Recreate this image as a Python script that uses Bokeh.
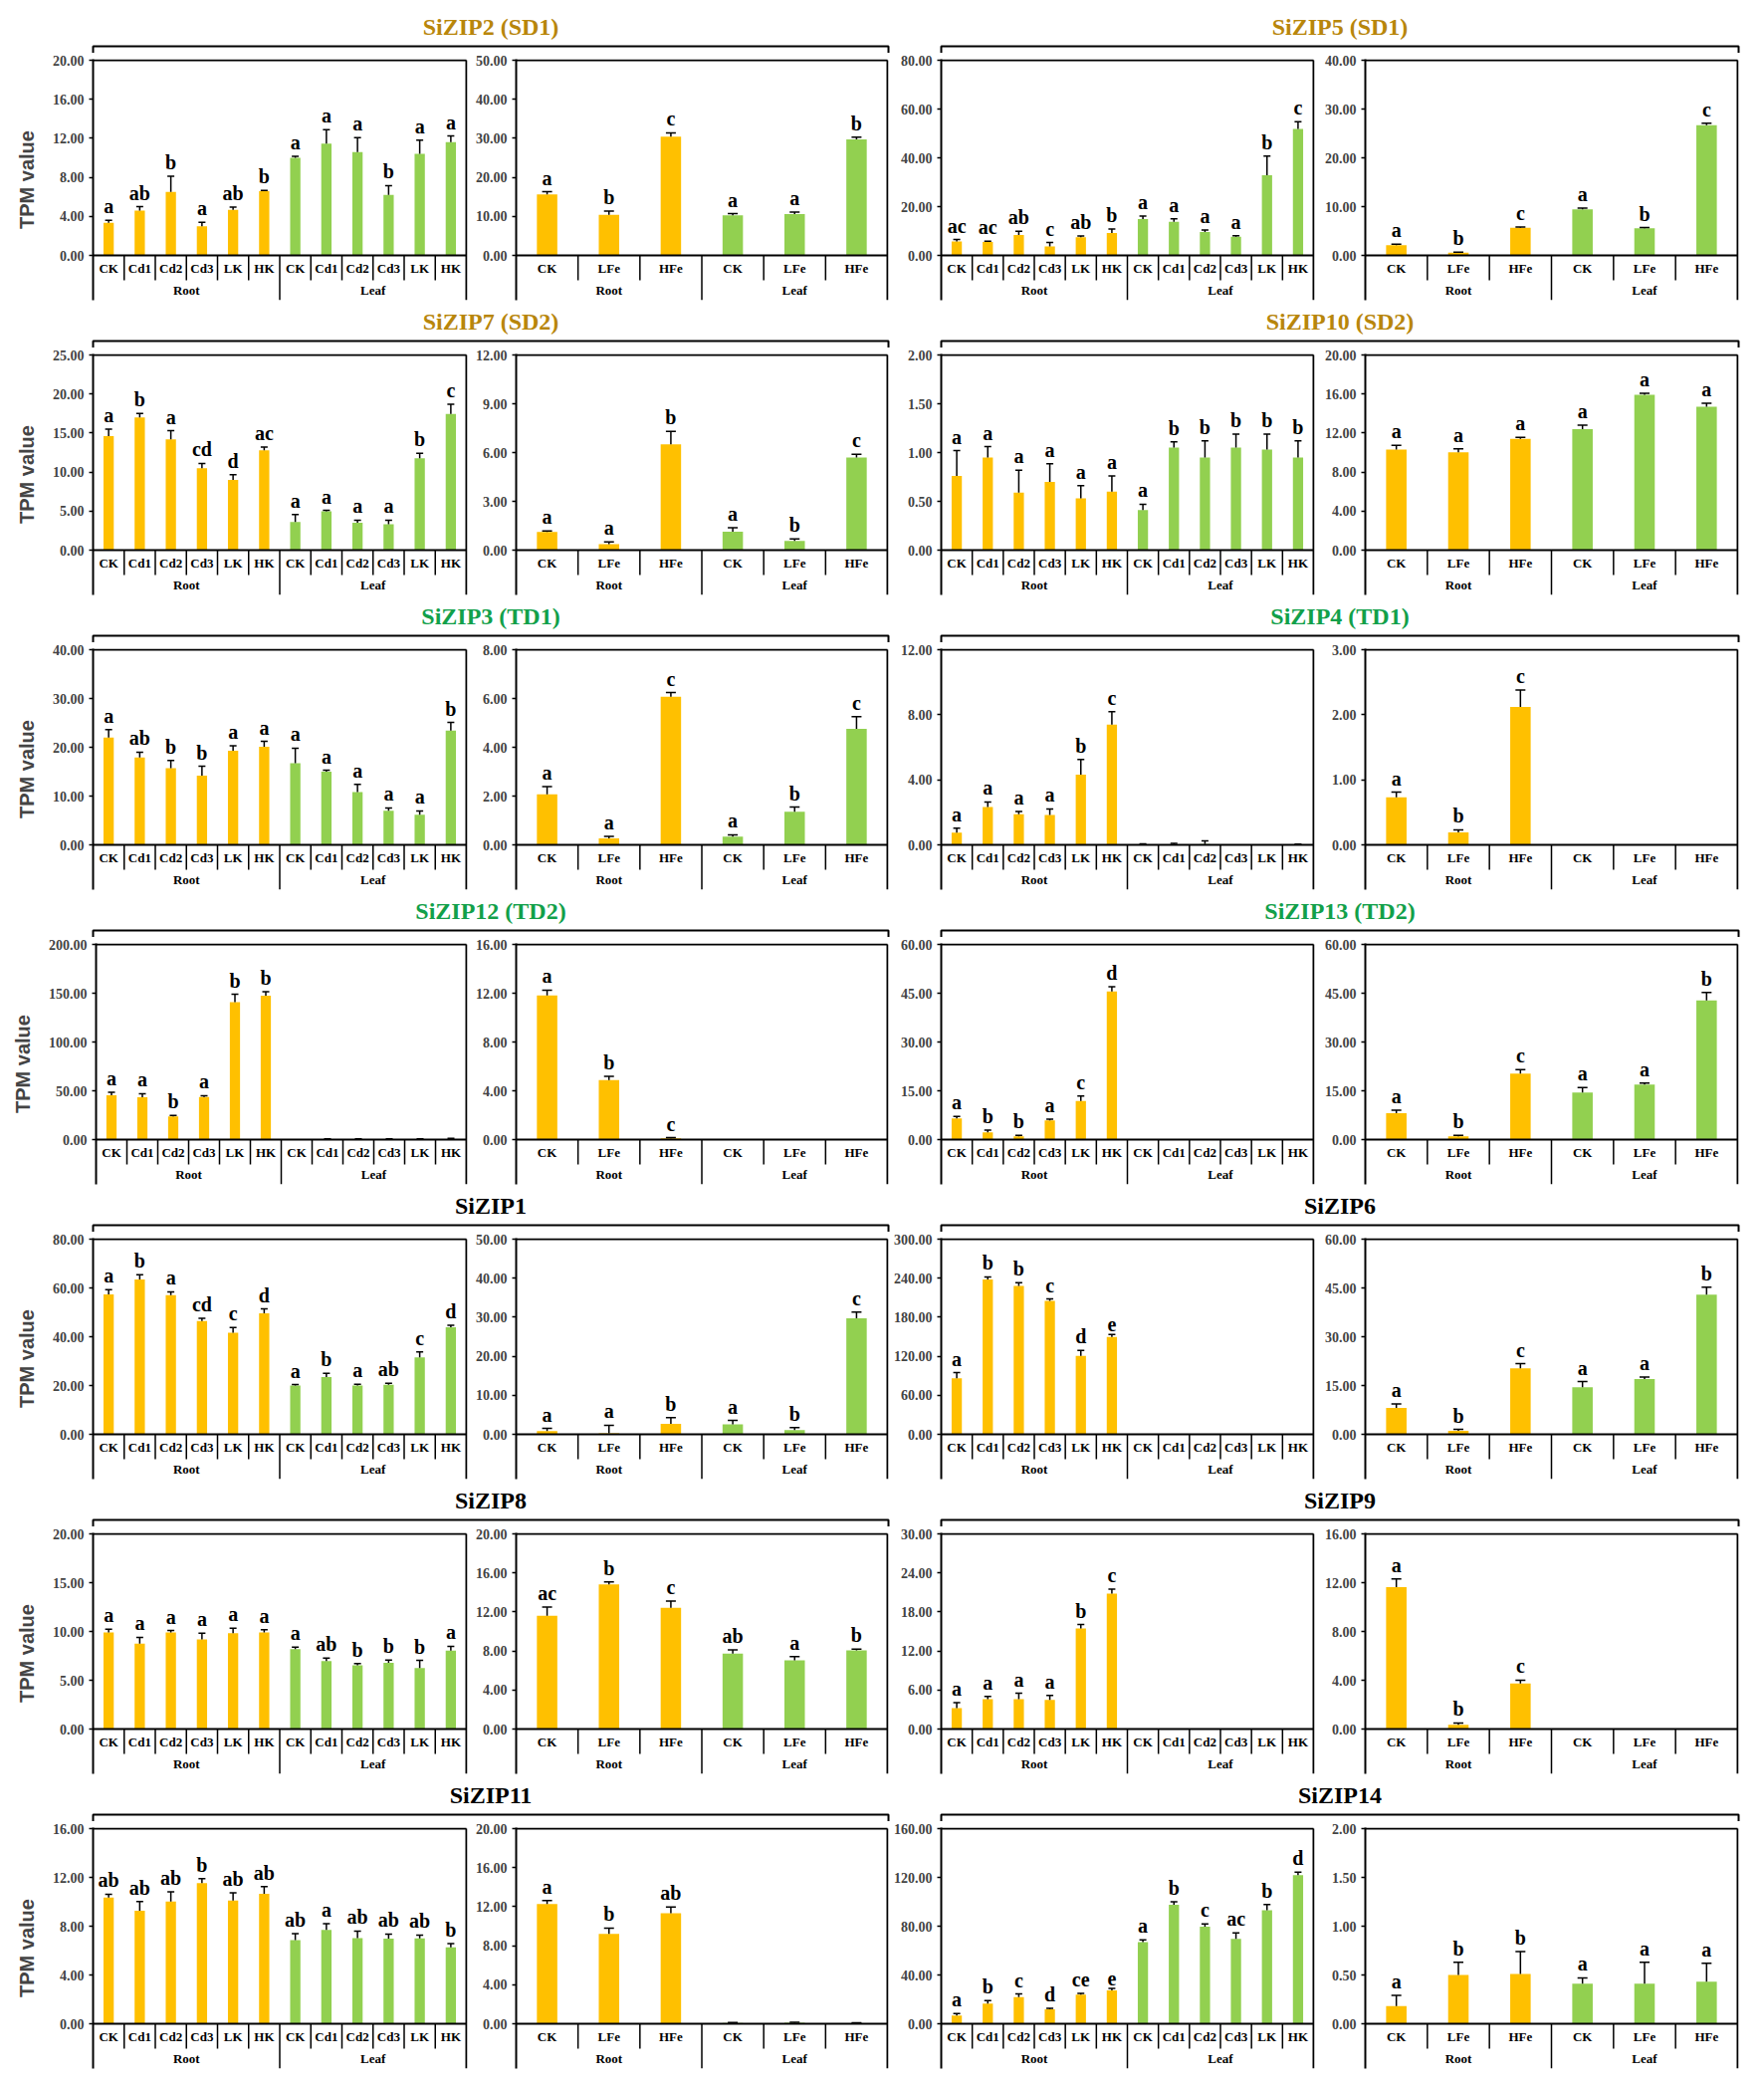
from bokeh.plotting import figure
from bokeh.models import (ColumnDataSource, Range1d, FixedTicker, PrintfTickFormatter, Spacer)
from bokeh.layouts import column, row
from bokeh.embed import file_html
from bokeh.resources import INLINE
from bokeh.core.properties import value

# ---------------- categories ----------------
TISSUES = ["Root", "Leaf"]
CD_CATS = ["CK", "Cd1", "Cd2", "Cd3", "LK", "HK"]
FE_CATS = ["CK", "LFe", "HFe"]

# ---------------- data (TPM mean, SE, significance letters, y ticks) ----------------
SIZIP2_CD = [3.35, 4.58, 6.5, 2.98, 4.68, 6.58, 10.0, 11.46, 10.58, 6.2, 10.4, 11.6]
SIZIP2_CD_ERR = [0.25, 0.42, 1.6, 0.42, 0.27, 0.07, 0.15, 1.42, 1.49, 0.95, 1.4, 0.64]
SIZIP2_CD_SIG = ["a", "ab", "b", "a", "ab", "b", "a", "a", "a", "b", "a", "a"]
SIZIP2_CD_TICKS = [0, 4, 8, 12, 16, 20]
SIZIP2_FE = [15.6, 10.4, 30.4, 10.25, 10.6, 29.7]
SIZIP2_FE_ERR = [0.7, 0.95, 1.0, 0.45, 0.5, 0.6]
SIZIP2_FE_SIG = ["a", "b", "c", "a", "a", "b"]
SIZIP2_FE_TICKS = [0, 10, 20, 30, 40, 50]

SIZIP5_CD = [5.7, 5.56, 8.4, 3.66, 7.46, 9.2, 14.9, 13.8, 9.6, 7.7, 32.9, 51.8]
SIZIP5_CD_ERR = [0.8, 0.3, 1.5, 1.6, 0.45, 1.6, 1.2, 1.25, 0.8, 0.4, 7.8, 3.0]
SIZIP5_CD_SIG = ["ac", "ac", "ab", "c", "ab", "b", "a", "a", "a", "a", "b", "c"]
SIZIP5_CD_TICKS = [0, 20, 40, 60, 80]
SIZIP5_FE = [2.1, 0.54, 5.65, 9.46, 5.58, 26.7]
SIZIP5_FE_ERR = [0.2, 0.14, 0.15, 0.25, 0.12, 0.4]
SIZIP5_FE_SIG = ["a", "b", "c", "a", "b", "c"]
SIZIP5_FE_TICKS = [0, 10, 20, 30, 40]

SIZIP7_CD = [14.6, 17.0, 14.2, 10.5, 9.0, 12.8, 3.6, 4.97, 3.5, 3.33, 11.76, 17.45]
SIZIP7_CD_ERR = [0.9, 0.5, 1.1, 0.6, 0.65, 0.4, 0.95, 0.13, 0.34, 0.51, 0.64, 1.25]
SIZIP7_CD_SIG = ["a", "b", "a", "cd", "d", "ac", "a", "a", "a", "a", "b", "c"]
SIZIP7_CD_TICKS = [0, 5, 10, 15, 20, 25]
SIZIP7_FE = [1.12, 0.37, 6.5, 1.14, 0.57, 5.7]
SIZIP7_FE_ERR = [0.06, 0.13, 0.8, 0.24, 0.12, 0.2]
SIZIP7_FE_SIG = ["a", "a", "b", "a", "b", "c"]
SIZIP7_FE_TICKS = [0, 3, 6, 9, 12]

SIZIP10_CD = [0.76, 0.95, 0.59, 0.70, 0.53, 0.60, 0.41, 1.05, 0.95, 1.05, 1.03, 0.95]
SIZIP10_CD_ERR = [0.26, 0.11, 0.23, 0.185, 0.13, 0.16, 0.06, 0.06, 0.17, 0.14, 0.16, 0.17]
SIZIP10_CD_SIG = ["a", "a", "a", "a", "a", "a", "a", "b", "b", "b", "b", "b"]
SIZIP10_CD_TICKS = [0, 0.5, 1.0, 1.5, 2.0]
SIZIP10_FE = [10.3, 10.03, 11.4, 12.4, 15.93, 14.7]
SIZIP10_FE_ERR = [0.45, 0.34, 0.16, 0.4, 0.14, 0.35]
SIZIP10_FE_SIG = ["a", "a", "a", "a", "a", "a"]
SIZIP10_FE_TICKS = [0, 4, 8, 12, 16, 20]

SIZIP3_CD = [22.0, 17.9, 15.7, 14.2, 19.3, 20.1, 16.75, 15.0, 10.8, 7.0, 6.15, 23.4]
SIZIP3_CD_ERR = [1.6, 1.1, 1.6, 1.9, 1.0, 1.1, 3.05, 0.3, 1.6, 0.57, 0.81, 1.7]
SIZIP3_CD_SIG = ["a", "ab", "b", "b", "a", "a", "a", "a", "a", "a", "a", "b"]
SIZIP3_CD_TICKS = [0, 10, 20, 30, 40]
SIZIP3_FE = [2.07, 0.27, 6.07, 0.34, 1.36, 4.76]
SIZIP3_FE_ERR = [0.32, 0.08, 0.17, 0.07, 0.19, 0.5]
SIZIP3_FE_SIG = ["a", "a", "c", "a", "b", "c"]
SIZIP3_FE_TICKS = [0, 2, 4, 6, 8]

SIZIP4_CD = [0.75, 2.33, 1.89, 1.84, 4.32, 7.4, 0.02, 0.03, 0.05, 0.0, 0.0, 0.01]
SIZIP4_CD_ERR = [0.28, 0.31, 0.16, 0.37, 0.93, 0.79, 0.04, 0.06, 0.2, 0.0, 0.0, 0.03]
SIZIP4_CD_SIG = ["a", "a", "a", "a", "b", "c", "", "", "", "", "", ""]
SIZIP4_CD_TICKS = [0, 4, 8, 12]
SIZIP4_FE = [0.73, 0.19, 2.12, 0.0, 0.0, 0.0]
SIZIP4_FE_ERR = [0.08, 0.04, 0.26, 0.0, 0.0, 0.0]
SIZIP4_FE_SIG = ["a", "b", "c", "", "", ""]
SIZIP4_FE_TICKS = [0, 1, 2, 3]

SIZIP12_CD = [45.3, 43.3, 23.7, 43.7, 140.8, 147.5, 0.0, 0.3, 0.3, 0.3, 0.3, 0.5]
SIZIP12_CD_ERR = [3.1, 3.7, 1.0, 1.3, 8.1, 4.1, 0.0, 0.4, 0.4, 0.4, 0.4, 0.8]
SIZIP12_CD_SIG = ["a", "a", "b", "a", "b", "b", "", "", "", "", "", ""]
SIZIP12_CD_TICKS = [0, 50, 100, 150, 200]
SIZIP12_FE = [11.82, 4.88, 0.11, 0.0, 0.0, 0.0]
SIZIP12_FE_ERR = [0.43, 0.3, 0.05, 0.0, 0.0, 0.0]
SIZIP12_FE_SIG = ["a", "b", "c", "", "", ""]
SIZIP12_FE_TICKS = [0, 4, 8, 12, 16]

SIZIP13_CD = [6.5, 2.23, 1.0, 5.9, 11.9, 45.5, 0.0, 0.0, 0.0, 0.0, 0.0, 0.0]
SIZIP13_CD_ERR = [0.6, 0.71, 0.3, 0.4, 1.5, 1.5, 0.0, 0.0, 0.0, 0.0, 0.0, 0.0]
SIZIP13_CD_SIG = ["a", "b", "b", "a", "c", "d", "", "", "", "", "", ""]
SIZIP13_CD_TICKS = [0, 15, 30, 45, 60]
SIZIP13_FE = [8.15, 1.0, 20.3, 14.5, 16.9, 42.8]
SIZIP13_FE_ERR = [0.9, 0.3, 1.2, 1.5, 0.5, 2.4]
SIZIP13_FE_SIG = ["a", "b", "c", "a", "a", "b"]
SIZIP13_FE_TICKS = [0, 15, 30, 45, 60]

SIZIP1_CD = [57.3, 63.5, 57.0, 46.4, 41.6, 49.6, 20.0, 23.5, 20.0, 20.3, 31.5, 43.9]
SIZIP1_CD_ERR = [2.0, 1.9, 1.4, 1.2, 2.2, 1.8, 0.4, 1.5, 0.5, 0.6, 2.3, 0.8]
SIZIP1_CD_SIG = ["a", "b", "a", "cd", "c", "d", "a", "b", "a", "ab", "c", "d"]
SIZIP1_CD_TICKS = [0, 20, 40, 60, 80]
SIZIP1_FE = [0.85, 0.25, 2.7, 2.55, 1.1, 29.7]
SIZIP1_FE_ERR = [0.65, 2.05, 1.55, 1.02, 0.6, 1.6]
SIZIP1_FE_SIG = ["a", "a", "b", "a", "b", "c"]
SIZIP1_FE_TICKS = [0, 10, 20, 30, 40, 50]

SIZIP6_CD = [86.0, 238.0, 228.0, 205.0, 120.6, 149.5, 0.0, 0.0, 0.0, 0.0, 0.0, 0.0]
SIZIP6_CD_ERR = [8.8, 4.0, 5.0, 3.0, 8.4, 4.1, 0.0, 0.0, 0.0, 0.0, 0.0, 0.0]
SIZIP6_CD_SIG = ["a", "b", "b", "c", "d", "e", "", "", "", "", "", ""]
SIZIP6_CD_TICKS = [0, 60, 120, 180, 240, 300]
SIZIP6_FE = [8.1, 1.1, 20.3, 14.5, 17.0, 42.9]
SIZIP6_FE_ERR = [1.2, 0.4, 1.4, 1.7, 0.6, 2.3]
SIZIP6_FE_SIG = ["a", "b", "c", "a", "a", "b"]
SIZIP6_FE_TICKS = [0, 15, 30, 45, 60]

SIZIP8_CD = [9.9, 8.75, 9.9, 9.19, 9.83, 9.9, 8.18, 6.96, 6.52, 6.79, 6.25, 8.04]
SIZIP8_CD_ERR = [0.34, 0.65, 0.2, 0.64, 0.51, 0.27, 0.22, 0.3, 0.2, 0.27, 0.78, 0.44]
SIZIP8_CD_SIG = ["a", "a", "a", "a", "a", "a", "a", "ab", "b", "b", "b", "a"]
SIZIP8_CD_TICKS = [0, 5, 10, 15, 20]
SIZIP8_FE = [11.6, 14.83, 12.43, 7.74, 7.03, 8.07]
SIZIP8_FE_ERR = [0.9, 0.24, 0.67, 0.36, 0.4, 0.13]
SIZIP8_FE_SIG = ["ac", "b", "c", "ab", "a", "b"]
SIZIP8_FE_TICKS = [0, 4, 8, 12, 16, 20]

SIZIP9_CD = [3.2, 4.6, 4.6, 4.46, 15.46, 20.83, 0.0, 0.0, 0.0, 0.0, 0.0, 0.0]
SIZIP9_CD_ERR = [0.85, 0.4, 0.9, 0.71, 0.61, 0.67, 0.0, 0.0, 0.0, 0.0, 0.0, 0.0]
SIZIP9_CD_SIG = ["a", "a", "a", "a", "b", "c", "", "", "", "", "", ""]
SIZIP9_CD_TICKS = [0, 6, 12, 18, 24, 30]
SIZIP9_FE = [11.63, 0.35, 3.74, 0.0, 0.0, 0.0]
SIZIP9_FE_ERR = [0.67, 0.14, 0.27, 0.0, 0.0, 0.0]
SIZIP9_FE_SIG = ["a", "b", "c", "", "", ""]
SIZIP9_FE_TICKS = [0, 4, 8, 12, 16]

SIZIP11_CD = [10.35, 9.27, 10.03, 11.54, 10.11, 10.65, 6.86, 7.7, 7.03, 6.97, 7.0, 6.27]
SIZIP11_CD_ERR = [0.27, 0.76, 0.78, 0.35, 0.62, 0.59, 0.52, 0.5, 0.57, 0.38, 0.27, 0.3]
SIZIP11_CD_SIG = ["ab", "ab", "ab", "b", "ab", "ab", "ab", "a", "ab", "ab", "ab", "b"]
SIZIP11_CD_TICKS = [0, 4, 8, 12, 16]
SIZIP11_FE = [12.27, 9.22, 11.32, 0.08, 0.1, 0.05]
SIZIP11_FE_ERR = [0.37, 0.58, 0.65, 0.05, 0.05, 0.05]
SIZIP11_FE_SIG = ["a", "b", "ab", "", "", ""]
SIZIP11_FE_TICKS = [0, 4, 8, 12, 16, 20]

SIZIP14_CD = [6.8, 16.5, 21.9, 11.9, 23.8, 27.3, 66.9, 97.5, 79.6, 69.6, 93.1, 121.8]
SIZIP14_CD_ERR = [1.6, 2.5, 2.5, 0.8, 1.1, 1.7, 1.9, 2.4, 2.2, 4.8, 4.6, 2.5]
SIZIP14_CD_SIG = ["a", "b", "c", "d", "ce", "e", "a", "b", "c", "ac", "b", "d"]
SIZIP14_CD_TICKS = [0, 40, 80, 120, 160]
SIZIP14_FE = [0.18, 0.50, 0.51, 0.41, 0.41, 0.43]
SIZIP14_FE_ERR = [0.11, 0.13, 0.23, 0.06, 0.22, 0.19]
SIZIP14_FE_SIG = ["a", "b", "b", "a", "a", "a"]
SIZIP14_FE_TICKS = [0, 0.5, 1.0, 1.5, 2.0]

# gene title, subfamily class
GENES = [
    ("SiZIP2 (SD1)", "SD", SIZIP2_CD, SIZIP2_CD_ERR, SIZIP2_CD_SIG, SIZIP2_CD_TICKS, SIZIP2_FE, SIZIP2_FE_ERR, SIZIP2_FE_SIG, SIZIP2_FE_TICKS),
    ("SiZIP5 (SD1)", "SD", SIZIP5_CD, SIZIP5_CD_ERR, SIZIP5_CD_SIG, SIZIP5_CD_TICKS, SIZIP5_FE, SIZIP5_FE_ERR, SIZIP5_FE_SIG, SIZIP5_FE_TICKS),
    ("SiZIP7 (SD2)", "SD", SIZIP7_CD, SIZIP7_CD_ERR, SIZIP7_CD_SIG, SIZIP7_CD_TICKS, SIZIP7_FE, SIZIP7_FE_ERR, SIZIP7_FE_SIG, SIZIP7_FE_TICKS),
    ("SiZIP10 (SD2)", "SD", SIZIP10_CD, SIZIP10_CD_ERR, SIZIP10_CD_SIG, SIZIP10_CD_TICKS, SIZIP10_FE, SIZIP10_FE_ERR, SIZIP10_FE_SIG, SIZIP10_FE_TICKS),
    ("SiZIP3 (TD1)", "TD", SIZIP3_CD, SIZIP3_CD_ERR, SIZIP3_CD_SIG, SIZIP3_CD_TICKS, SIZIP3_FE, SIZIP3_FE_ERR, SIZIP3_FE_SIG, SIZIP3_FE_TICKS),
    ("SiZIP4 (TD1)", "TD", SIZIP4_CD, SIZIP4_CD_ERR, SIZIP4_CD_SIG, SIZIP4_CD_TICKS, SIZIP4_FE, SIZIP4_FE_ERR, SIZIP4_FE_SIG, SIZIP4_FE_TICKS),
    ("SiZIP12 (TD2)", "TD", SIZIP12_CD, SIZIP12_CD_ERR, SIZIP12_CD_SIG, SIZIP12_CD_TICKS, SIZIP12_FE, SIZIP12_FE_ERR, SIZIP12_FE_SIG, SIZIP12_FE_TICKS),
    ("SiZIP13 (TD2)", "TD", SIZIP13_CD, SIZIP13_CD_ERR, SIZIP13_CD_SIG, SIZIP13_CD_TICKS, SIZIP13_FE, SIZIP13_FE_ERR, SIZIP13_FE_SIG, SIZIP13_FE_TICKS),
    ("SiZIP1", "", SIZIP1_CD, SIZIP1_CD_ERR, SIZIP1_CD_SIG, SIZIP1_CD_TICKS, SIZIP1_FE, SIZIP1_FE_ERR, SIZIP1_FE_SIG, SIZIP1_FE_TICKS),
    ("SiZIP6", "", SIZIP6_CD, SIZIP6_CD_ERR, SIZIP6_CD_SIG, SIZIP6_CD_TICKS, SIZIP6_FE, SIZIP6_FE_ERR, SIZIP6_FE_SIG, SIZIP6_FE_TICKS),
    ("SiZIP8", "", SIZIP8_CD, SIZIP8_CD_ERR, SIZIP8_CD_SIG, SIZIP8_CD_TICKS, SIZIP8_FE, SIZIP8_FE_ERR, SIZIP8_FE_SIG, SIZIP8_FE_TICKS),
    ("SiZIP9", "", SIZIP9_CD, SIZIP9_CD_ERR, SIZIP9_CD_SIG, SIZIP9_CD_TICKS, SIZIP9_FE, SIZIP9_FE_ERR, SIZIP9_FE_SIG, SIZIP9_FE_TICKS),
    ("SiZIP11", "", SIZIP11_CD, SIZIP11_CD_ERR, SIZIP11_CD_SIG, SIZIP11_CD_TICKS, SIZIP11_FE, SIZIP11_FE_ERR, SIZIP11_FE_SIG, SIZIP11_FE_TICKS),
    ("SiZIP14", "", SIZIP14_CD, SIZIP14_CD_ERR, SIZIP14_CD_SIG, SIZIP14_CD_TICKS, SIZIP14_FE, SIZIP14_FE_ERR, SIZIP14_FE_SIG, SIZIP14_FE_TICKS),
]

# ---------------- styles / layout ----------------
SERIF = "Liberation Serif"
SANS = "Liberation Sans"
ROOT_COLOR = "#FFC000"
LEAF_COLOR = "#92D050"
TITLE_COLORS = {"SD": "#B8860B", "TD": "#12A04A", "": "#000000"}

PAD = 8
HEAD_H = 45
TOP = 6
DATA_H = 196        # px of the value area
LAB_H = 45          # px of the treatment/tissue label band under the value axis
HEADROOM = 1
BOTTOM = 3
COLS = [(85, 376, 2), (47, 374, 2), (51, 375, 2), (49, 375, 3)]  # left border, frame, right border
ROW_W = sum(l + f + r for l, f, r in COLS)
PANEL_H = TOP + HEADROOM + DATA_H + LAB_H + BOTTOM


def panel(cats, vals, errs, sigs, ticks, col, ylabel, cap):
    left, fw, right = COLS[col]
    names = cats + cats
    n = len(names)
    m = len(cats)
    ymax = ticks[-1]
    s = ymax / DATA_H               # data units per pixel (vertical)
    xs = [i + 0.5 for i in range(n)]  # category slots on the x scale
    colors = [ROOT_COLOR] * m + [LEAF_COLOR] * m
    p = figure(x_range=Range1d(0, n * (1 + 1.0 / fw)),
               y_range=Range1d(-LAB_H * s, ymax + HEADROOM * s),
               x_axis_type=None,
               width=left + fw + right, height=PANEL_H,
               min_border_left=left, min_border_right=right,
               min_border_top=TOP, min_border_bottom=BOTTOM,
               output_backend="svg", toolbar_location=None)
    p.grid.visible = False
    p.outline_line_color = None
    p.background_fill_color = "white"

    # bars, error bars, significance letters
    etop = [v + e for v, e in zip(vals, errs)]
    src = ColumnDataSource(dict(x=xs, top=vals, etop=etop, sig=sigs, color=colors))
    p.vbar(x="x", top="top", width=0.33, fill_color="color", line_color=None, source=src)
    idx = [i for i in range(n) if errs[i] > 0]
    esrc = ColumnDataSource(dict(x=[xs[i] for i in idx], y0=[vals[i] for i in idx],
                                 y1=[etop[i] for i in idx]))
    p.segment(x0="x", y0="y0", x1="x", y1="y1", line_color="black", line_width=1.5, source=esrc)
    p.scatter(x="x", y="y1", marker="dash", size=cap, line_color="black", line_width=1.5, source=esrc)
    p.text(x="x", y="etop", text="sig", source=src, text_font=value(SERIF), text_font_style="bold",
           text_font_size="20px", text_align="center", text_baseline="bottom", text_color="black",
           y_offset=-3)

    # frame lines: value axis baseline, top and right border
    p.segment(x0=[0, 0, n], y0=[0, ymax, -LAB_H * s], x1=[n, n, n], y1=[0, ymax, ymax],
              line_color="black", line_width=2)
    # separators in the label band
    seps = [float(i) for i in range(1, n) if i != m]
    p.segment(x0=seps, y0=[0] * len(seps), x1=seps, y1=[-25 * s] * len(seps),
              line_color="black", line_width=1.5)
    p.segment(x0=[m], y0=[0], x1=[m], y1=[-LAB_H * s], line_color="black", line_width=1.5)
    # treatment and tissue labels
    p.text(x=xs, y=[-13 * s] * n, text=names, text_font=value(SERIF), text_font_style="bold",
           text_font_size="13px", text_align="center", text_baseline="middle", text_color="black")
    p.text(x=[m / 2, m + m / 2], y=[-35 * s] * 2, text=TISSUES, text_font=value(SERIF),
           text_font_style="bold", text_font_size="13px", text_align="center",
           text_baseline="middle", text_color="black")

    # y axis
    ya = p.yaxis[0]
    ya.ticker = FixedTicker(ticks=ticks)
    ya.formatter = PrintfTickFormatter(format="%.2f")
    ya.major_tick_in = 0
    ya.major_tick_out = 4
    ya.minor_tick_line_color = None
    ya.major_tick_line_width = 1.5
    ya.axis_line_width = 2
    ya.major_label_text_font = SERIF
    ya.major_label_text_font_style = "bold"
    ya.major_label_text_font_size = "14px"
    ya.major_label_standoff = 5
    if ylabel:
        ya.axis_label = "TPM value"
        ya.axis_label_text_font = SANS
        ya.axis_label_text_font_style = "bold"
        ya.axis_label_text_font_size = "20px"
        ya.axis_label_standoff = 12
    return p


def header(lt, lc, rt, rc):
    h = figure(width=ROW_W, height=HEAD_H, x_range=Range1d(0, ROW_W), y_range=Range1d(HEAD_H, 0),
               x_axis_type=None, y_axis_type=None, output_backend="svg", toolbar_location=None,
               min_border_left=0, min_border_right=0, min_border_top=0, min_border_bottom=0)
    h.outline_line_color = None
    edges = []
    x = 0
    for l, f, r in COLS:
        edges.append((x + l, x + l + f))
        x += l + f + r
    groups = [(edges[0][0], edges[1][1]), (edges[2][0], edges[3][1])]
    h.multi_line(xs=[[a, a, b, b] for a, b in groups], ys=[[HEAD_H, 38, 38, HEAD_H]] * 2,
                 line_color="black", line_width=2)
    h.text(x=[(a + b) / 2 for a, b in groups], y=[18, 18], text=[lt, rt], text_color=[lc, rc],
           text_font=value(SERIF), text_font_style="bold", text_font_size="24px",
           text_align="center", text_baseline="middle")
    return h


children = [Spacer(width=ROW_W, height=PAD)]
for r in range(0, len(GENES), 2):
    g1, g2 = GENES[r], GENES[r + 1]
    children.append(row(Spacer(width=PAD, height=HEAD_H),
                        header(g1[0], TITLE_COLORS[g1[1]], g2[0], TITLE_COLORS[g2[1]])))
    figs = [Spacer(width=PAD, height=PANEL_H)]
    for k, g in enumerate((g1, g2)):
        figs.append(panel(CD_CATS, g[2], g[3], g[4], g[5], 2 * k, k == 0, 7))
        figs.append(panel(FE_CATS, g[6], g[7], g[8], g[9], 2 * k + 1, False, 10))
    children.append(row(*figs))

layout = column(*children)
open("out.html", "w").write(file_html(layout, INLINE))
